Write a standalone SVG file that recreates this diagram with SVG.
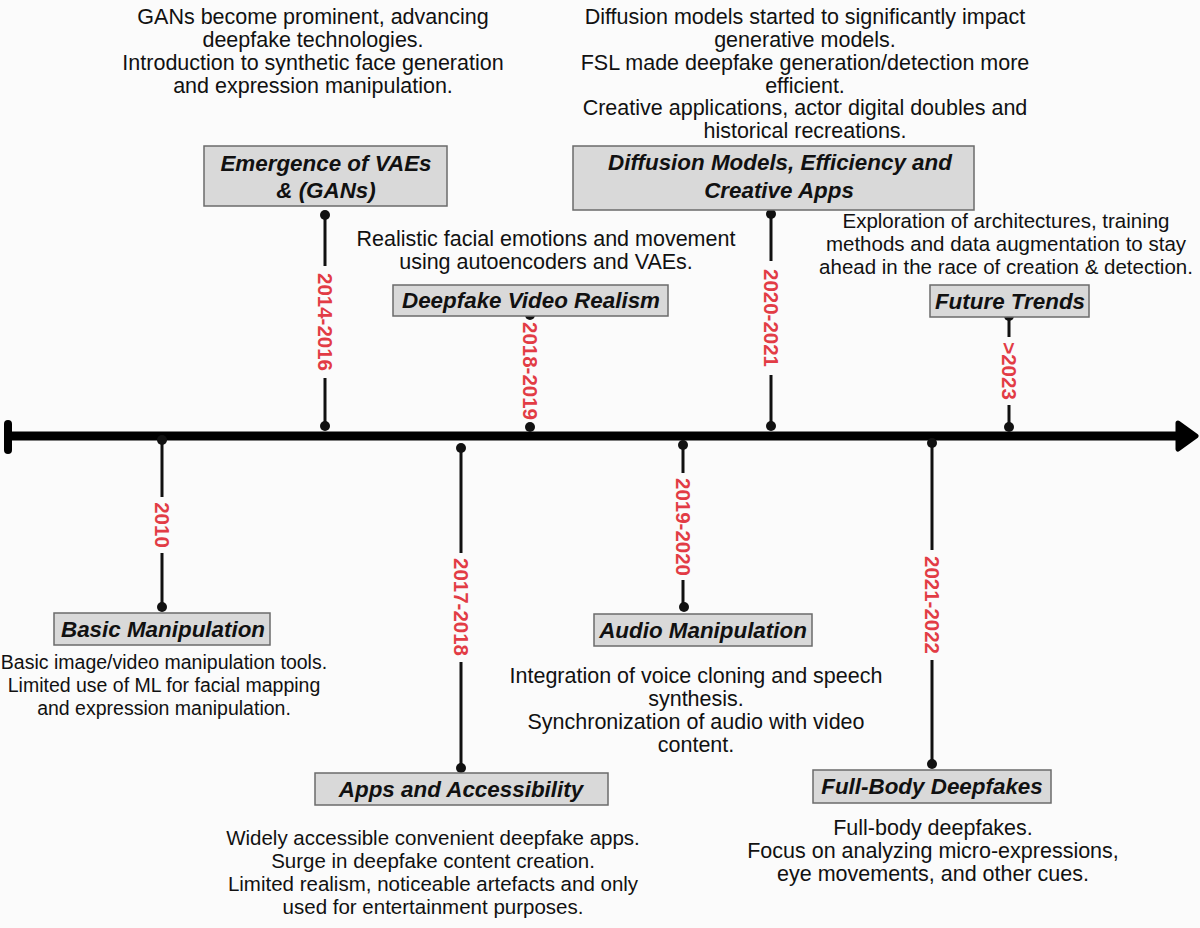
<svg xmlns="http://www.w3.org/2000/svg" width="1200" height="928" viewBox="0 0 1200 928">
<style>
.desc{font-family:"Liberation Sans",Arial,sans-serif;font-size:21.5px;fill:#111;text-anchor:middle}
.small{font-size:19.5px}
.mid{font-size:20.5px}
.title{font-family:"Liberation Sans",Arial,sans-serif;font-size:22.4px;font-weight:bold;font-style:italic;fill:#111;text-anchor:middle}
.yr{font-family:"Liberation Sans",Arial,sans-serif;font-size:20.5px;font-weight:bold;fill:#e23c45;text-anchor:middle;dominant-baseline:central}
.box{fill:#d9d9d9;stroke:#6b6b6b;stroke-width:1.5}
.stem{stroke:#111;stroke-width:3;fill:none}
.dot{fill:#111}
</style>
<rect width="1200" height="928" fill="#fbfbfb"/>
<g id="connectors">
<line x1="10" y1="436" x2="1180" y2="436" stroke="#000" stroke-width="9"/>
<line x1="8" y1="424" x2="8" y2="450" stroke="#000" stroke-width="8" stroke-linecap="round"/>
<path d="M1178 423 L1196 436 L1178 449 Z" fill="#000" stroke="#000" stroke-width="5" stroke-linejoin="round"/>
<line class="stem" x1="162" y1="440" x2="162" y2="497"/><line class="stem" x1="162" y1="553" x2="162" y2="607"/>
<circle class="dot" cx="162" cy="440" r="5"/><circle class="dot" cx="162" cy="607" r="5"/>
<line class="stem" x1="325" y1="215" x2="325" y2="266"/><line class="stem" x1="325" y1="378" x2="325" y2="425"/>
<circle class="dot" cx="325" cy="215" r="5"/><circle class="dot" cx="325" cy="426" r="5"/>
<line class="stem" x1="461" y1="448" x2="461" y2="553"/><line class="stem" x1="461" y1="662" x2="461" y2="768"/>
<circle class="dot" cx="461" cy="448" r="5"/><circle class="dot" cx="461" cy="768" r="5"/>
<circle class="dot" cx="530" cy="315" r="5"/><circle class="dot" cx="530" cy="427" r="5"/>
<line class="stem" x1="683" y1="445" x2="683" y2="473"/><line class="stem" x1="683" y1="580" x2="683" y2="607"/>
<circle class="dot" cx="683" cy="445" r="5"/><circle class="dot" cx="684" cy="607" r="5"/>
<line class="stem" x1="771" y1="214" x2="771" y2="261"/><line class="stem" x1="771" y1="375" x2="771" y2="425"/>
<circle class="dot" cx="771" cy="214" r="5"/><circle class="dot" cx="771" cy="426" r="5"/>
<line class="stem" x1="932" y1="443" x2="932" y2="550"/><line class="stem" x1="932" y1="660" x2="932" y2="763"/>
<circle class="dot" cx="932" cy="443" r="5"/><circle class="dot" cx="932" cy="764" r="5"/>
<line class="stem" x1="1009" y1="316" x2="1009" y2="337"/><line class="stem" x1="1009" y1="405" x2="1009" y2="427"/>
<circle class="dot" cx="1009" cy="316" r="5"/><circle class="dot" cx="1009" cy="427" r="5"/>
<text class="yr" transform="translate(162 525) rotate(90)">2010</text>
<text class="yr" transform="translate(325 322) rotate(90)">2014-2016</text>
<text class="yr" transform="translate(461 607) rotate(90)">2017-2018</text>
<text class="yr" transform="translate(530 371) rotate(90)">2018-2019</text>
<text class="yr" transform="translate(683 527) rotate(90)">2019-2020</text>
<text class="yr" transform="translate(771 318) rotate(90)">2020-2021</text>
<text class="yr" transform="translate(932 605) rotate(90)">2021-2022</text>
<text class="yr" transform="translate(1009 371) rotate(90)">&gt;2023</text>
</g>
<g id="basic">
<rect class="box" x="54" y="613" width="216" height="32"/>
<text class="title" x="163" y="637">Basic Manipulation</text>
<text class="desc small" x="164" y="669">Basic image/video manipulation tools.</text>
<text class="desc small" x="164" y="692">Limited use of ML for facial mapping</text>
<text class="desc small" x="164" y="715">and expression manipulation.</text>
</g>
<g id="vaes">
<text class="desc" x="313" y="24">GANs become prominent, advancing</text>
<text class="desc" x="313" y="47">deepfake technologies.</text>
<text class="desc" x="313" y="70">Introduction to synthetic face generation</text>
<text class="desc" x="313" y="93">and expression manipulation.</text>
<rect class="box" x="204" y="146" width="243" height="60"/>
<text class="title" x="326" y="171">Emergence of VAEs</text>
<text class="title" x="326" y="198">&amp; (GANs)</text>
</g>
<g id="apps">
<rect class="box" x="315" y="773" width="293" height="32"/>
<text class="title" x="461" y="797">Apps and Accessibility</text>
<text class="desc mid" x="433" y="845">Widely accessible convenient deepfake apps.</text>
<text class="desc mid" x="433" y="868">Surge in deepfake content creation.</text>
<text class="desc mid" x="433" y="891">Limited realism, noticeable artefacts and only</text>
<text class="desc mid" x="433" y="914">used for entertainment purposes.</text>
</g>
<g id="video">
<text class="desc" x="546" y="246">Realistic facial emotions and movement</text>
<text class="desc" x="546" y="269">using autoencoders and VAEs.</text>
<rect class="box" x="393" y="285" width="275" height="31"/>
<text class="title" x="531" y="308">Deepfake Video Realism</text>
</g>
<g id="audio">
<rect class="box" x="594" y="614" width="218" height="32"/>
<text class="title" x="703" y="638">Audio Manipulation</text>
<text class="desc" x="696" y="683">Integration of voice cloning and speech</text>
<text class="desc" x="696" y="706">synthesis.</text>
<text class="desc" x="696" y="729">Synchronization of audio with video</text>
<text class="desc" x="696" y="752">content.</text>
</g>
<g id="diffusion">
<text class="desc" x="805" y="24">Diffusion models started to significantly impact</text>
<text class="desc" x="805" y="47">generative models.</text>
<text class="desc" x="805" y="70">FSL made deepfake generation/detection more</text>
<text class="desc" x="805" y="93">efficient.</text>
<text class="desc" x="805" y="115">Creative applications, actor digital doubles and</text>
<text class="desc" x="805" y="138">historical recreations.</text>
<rect class="box" x="573" y="146" width="401" height="64"/>
<text class="title" x="780" y="170">Diffusion Models, Efficiency and</text>
<text class="title" x="779" y="198">Creative Apps</text>
</g>
<g id="fullbody">
<rect class="box" x="813" y="770" width="238" height="33"/>
<text class="title" x="932" y="794">Full-Body Deepfakes</text>
<text class="desc" x="933" y="835">Full-body deepfakes.</text>
<text class="desc" x="933" y="858">Focus on analyzing micro-expressions,</text>
<text class="desc" x="933" y="881">eye movements, and other cues.</text>
</g>
<g id="future">
<text class="desc mid" x="1006" y="228">Exploration of architectures, training</text>
<text class="desc mid" x="1006" y="251">methods and data augmentation to stay</text>
<text class="desc mid" x="1006" y="274">ahead in the race of creation &amp; detection.</text>
<rect class="box" x="930" y="285" width="159" height="32"/>
<text class="title" x="1010" y="309">Future Trends</text>
</g>
</svg>
